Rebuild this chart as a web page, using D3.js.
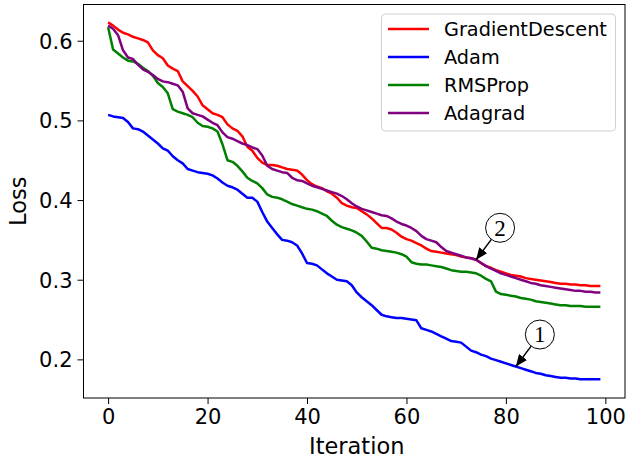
<!DOCTYPE html>
<html>
<head>
<meta charset="utf-8">
<script src="https://cdn.jsdelivr.net/npm/d3@7"></script>
<style>
  body { margin: 0; background: #fff; }
  svg { display: block; font-family: "DejaVu Sans", sans-serif; }
</style>
</head>
<body>
<svg width="627" height="460"></svg>
<script>
// loss per iteration
const gradientDescent = [
  0.623, 0.619, 0.614, 0.610, 0.608, 0.605, 0.603, 0.601, 0.598, 0.588,
  0.582, 0.578, 0.569, 0.565, 0.562, 0.549, 0.543, 0.537, 0.530, 0.519,
  0.514, 0.509, 0.507, 0.504, 0.495, 0.490, 0.487, 0.480, 0.467, 0.462,
  0.453, 0.447, 0.444, 0.444, 0.443, 0.441, 0.439, 0.438, 0.437, 0.432,
  0.425, 0.420, 0.417, 0.415, 0.411, 0.408, 0.403, 0.396, 0.393, 0.391,
  0.390, 0.386, 0.382, 0.377, 0.371, 0.365, 0.365, 0.363, 0.359, 0.354,
  0.351, 0.349, 0.346, 0.343, 0.339, 0.336, 0.335, 0.334, 0.333, 0.332,
  0.331, 0.329, 0.328, 0.327, 0.325, 0.321, 0.317, 0.315, 0.312, 0.310,
  0.308, 0.306, 0.305, 0.304, 0.302, 0.301, 0.300, 0.299, 0.298, 0.297,
  0.296, 0.295, 0.295, 0.294, 0.294, 0.293, 0.293, 0.292, 0.292, 0.292
];
const adam = [
  0.507, 0.505, 0.504, 0.503, 0.498, 0.490, 0.489, 0.486, 0.481, 0.476,
  0.471, 0.465, 0.462, 0.455, 0.450, 0.446, 0.439, 0.437, 0.435, 0.434,
  0.433, 0.431, 0.427, 0.422, 0.418, 0.416, 0.413, 0.408, 0.403, 0.403,
  0.398, 0.385, 0.373, 0.365, 0.357, 0.350, 0.349, 0.347, 0.343, 0.333,
  0.321, 0.320, 0.318, 0.313, 0.308, 0.304, 0.300, 0.299, 0.298, 0.293,
  0.284, 0.278, 0.273, 0.268, 0.262, 0.256, 0.254, 0.253, 0.252, 0.252,
  0.251, 0.250, 0.249, 0.239, 0.237, 0.235, 0.232, 0.229, 0.226, 0.223,
  0.222, 0.221, 0.216, 0.211, 0.209, 0.206, 0.204, 0.201, 0.199, 0.197,
  0.195, 0.193, 0.191, 0.189, 0.187, 0.185, 0.183, 0.182, 0.180, 0.179,
  0.178, 0.177, 0.177, 0.176, 0.176, 0.175, 0.175, 0.175, 0.175, 0.175
];
const rmsProp = [
  0.617, 0.589, 0.584, 0.579, 0.575, 0.574, 0.571, 0.566, 0.562, 0.556,
  0.547, 0.542, 0.534, 0.514, 0.511, 0.509, 0.507, 0.504, 0.497, 0.493,
  0.492, 0.490, 0.486, 0.470, 0.450, 0.448, 0.443, 0.436, 0.428, 0.424,
  0.421, 0.415, 0.407, 0.404, 0.403, 0.401, 0.398, 0.395, 0.393, 0.391,
  0.389, 0.388, 0.386, 0.383, 0.380, 0.374, 0.369, 0.366, 0.364, 0.362,
  0.359, 0.355, 0.348, 0.340, 0.339, 0.337, 0.336, 0.335, 0.334, 0.332,
  0.329, 0.322, 0.320, 0.319, 0.319, 0.318, 0.317, 0.316, 0.314, 0.312,
  0.311, 0.310, 0.310, 0.309, 0.308, 0.305, 0.301, 0.298, 0.285, 0.282,
  0.281, 0.280, 0.279, 0.277, 0.276, 0.275, 0.273, 0.272, 0.271, 0.270,
  0.269, 0.268, 0.268, 0.267, 0.267, 0.267, 0.266, 0.266, 0.266, 0.266
];
const adagrad = [
  0.619, 0.615, 0.607, 0.588, 0.579, 0.577, 0.570, 0.564, 0.561, 0.557,
  0.552, 0.549, 0.548, 0.546, 0.544, 0.536, 0.515, 0.509, 0.507, 0.505,
  0.501, 0.497, 0.494, 0.485, 0.479, 0.477, 0.474, 0.471, 0.469, 0.466,
  0.464, 0.456, 0.443, 0.439, 0.437, 0.435, 0.434, 0.428, 0.425, 0.424,
  0.421, 0.418, 0.416, 0.414, 0.412, 0.410, 0.408, 0.405, 0.401, 0.396,
  0.392, 0.389, 0.387, 0.385, 0.383, 0.381, 0.380, 0.377, 0.373, 0.370,
  0.368, 0.365, 0.361, 0.355, 0.351, 0.349, 0.347, 0.341, 0.336, 0.334,
  0.332, 0.330, 0.328, 0.327, 0.325, 0.321, 0.317, 0.314, 0.311, 0.308,
  0.306, 0.304, 0.302, 0.300, 0.298, 0.296, 0.295, 0.293, 0.292, 0.291,
  0.290, 0.289, 0.288, 0.287, 0.286, 0.286, 0.285, 0.285, 0.284, 0.284
];

const seriesNames = ["GradientDescent", "Adam", "RMSProp", "Adagrad"];
const seriesColors = ["red", "blue", "green", "purple"];
const seriesValues = [gradientDescent, adam, rmsProp, adagrad];

const xTicks = [0, 20, 40, 60, 80, 100];
const yTicks = [0.2, 0.3, 0.4, 0.5, 0.6];

// circled markers: label, series index, iteration
const marks = [
  { label: "1", series: 1, iter: 82 },
  { label: "2", series: 0, iter: 74 }
];

const svg = d3.select("svg");
const plotLeft = 83.5, plotRight = 625, plotTop = 4.5, plotBottom = 398;

const x = d3.scaleLinear().domain([-4.95, 103.95]).range([plotLeft, plotRight]);
const y = d3.scaleLinear().domain([0.1515, 0.6455]).range([plotBottom, plotTop]);

// ejes
const xAxis = svg.append("g")
  .attr("transform", `translate(0,${plotBottom})`)
  .call(d3.axisBottom(x).tickValues(xTicks).tickSize(6).tickPadding(5).tickFormat(d3.format("d")));
const yAxis = svg.append("g")
  .attr("transform", `translate(${plotLeft},0)`)
  .call(d3.axisLeft(y).tickValues(yTicks).tickSize(6).tickPadding(5).tickFormat(d3.format(".1f")));
[xAxis, yAxis].forEach(g => {
  g.select(".domain").remove();
  g.selectAll("line").attr("stroke", "#000").attr("stroke-width", 1);
  g.selectAll("text").attr("font-size", 21).attr("fill", "#000")
    .attr("font-family", "DejaVu Sans");
});
xAxis.selectAll("text").attr("dy", "0.72em");
yAxis.selectAll("text").attr("dy", "0.36em");

// lineas
const line = d3.line().x((d, i) => x(i)).y(d => y(d));
seriesValues.forEach((vals, k) => {
  svg.append("path")
    .datum(vals)
    .attr("d", line)
    .attr("fill", "none")
    .attr("stroke", seriesColors[k])
    .attr("stroke-width", 2.5)
    .attr("stroke-linejoin", "round");
});

// marco
svg.append("rect")
  .attr("x", plotLeft).attr("y", plotTop)
  .attr("width", plotRight - plotLeft).attr("height", plotBottom - plotTop)
  .attr("fill", "none").attr("stroke", "#000").attr("stroke-width", 1);

// etiquetas de ejes
svg.append("text")
  .attr("x", x(50)).attr("y", 454)
  .attr("text-anchor", "middle").attr("font-size", 22.5)
  .text("Iteration");
svg.append("text")
  .attr("transform", `translate(26,${(plotTop + plotBottom) / 2}) rotate(-90)`)
  .attr("text-anchor", "middle").attr("font-size", 22.5)
  .text("Loss");

// anotaciones
const defs = svg.append("defs");
defs.append("marker")
  .attr("id", "head").attr("viewBox", "0 0 12 10")
  .attr("refX", 12).attr("refY", 5)
  .attr("markerWidth", 12).attr("markerHeight", 10)
  .attr("markerUnits", "userSpaceOnUse")
  .attr("orient", "auto")
  .append("path").attr("d", "M0,0 L12,5 L0,10 Z").attr("fill", "#000");

marks.forEach(m => {
  const px = x(m.iter), py = y(seriesValues[m.series][m.iter]);
  const cx = px + 24, cy = py - 32, r = 14.5;
  const ang = Math.atan2(py - cy, px - cx);
  svg.append("line")
    .attr("x1", cx + r * Math.cos(ang)).attr("y1", cy + r * Math.sin(ang))
    .attr("x2", px).attr("y2", py)
    .attr("stroke", "#000").attr("stroke-width", 1.5)
    .attr("marker-end", "url(#head)");
  svg.append("circle")
    .attr("cx", cx).attr("cy", cy).attr("r", r)
    .attr("fill", "#fff").attr("stroke", "#000").attr("stroke-width", 1);
  svg.append("text")
    .attr("x", cx).attr("y", cy).attr("dy", "0.34em")
    .attr("text-anchor", "middle")
    .attr("font-family", "Liberation Serif, DejaVu Serif, serif")
    .attr("font-size", 23)
    .text(m.label);
});

// leyenda
const legend = svg.append("g");
legend.append("rect")
  .attr("x", 381.5).attr("y", 14).attr("width", 234).attr("height", 117)
  .attr("rx", 4).attr("fill", "#fff").attr("fill-opacity", 0.8)
  .attr("stroke", "#d0d0d0").attr("stroke-width", 1);
seriesNames.forEach((name, k) => {
  const ly = 29 + k * 28;
  legend.append("line")
    .attr("x1", 388).attr("x2", 429).attr("y1", ly).attr("y2", ly)
    .attr("stroke", seriesColors[k]).attr("stroke-width", 2.5);
  legend.append("text")
    .attr("x", 444).attr("y", ly).attr("dy", "0.36em")
    .attr("font-size", 19.3)
    .text(name);
});
</script>
</body>
</html>
